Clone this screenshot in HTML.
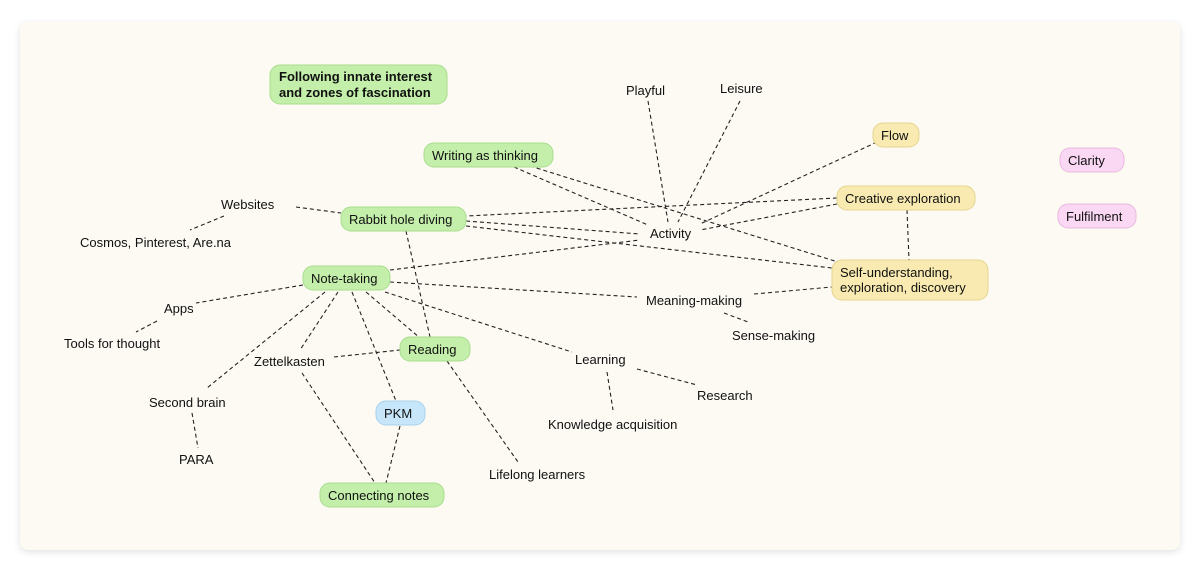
<!DOCTYPE html>
<html><head><meta charset="utf-8"><style>
html,body{margin:0;padding:0;background:#fff;width:1200px;height:571px;overflow:hidden}
.card{position:absolute;left:20px;top:22px;width:1160px;height:528px;background:#fcfaf3;border-radius:8px;box-shadow:0 2px 8px rgba(0,0,0,0.12)}
svg{position:absolute;left:0;top:0}
text{font-family:"Liberation Sans",Arial,sans-serif;font-size:13px;fill:#111}
</style></head><body>
<div class="card"></div>
<svg width="1200" height="571" viewBox="0 0 1200 571">
<g stroke="#222" stroke-width="1.1" stroke-dasharray="4,3" fill="none">
<line x1="648" y1="101" x2="668" y2="222"/>
<line x1="740" y1="101" x2="678" y2="222"/>
<line x1="877" y1="142" x2="700" y2="224"/>
<line x1="837" y1="204" x2="700" y2="230"/>
<line x1="837" y1="198" x2="466" y2="216"/>
<line x1="514" y1="167" x2="648" y2="225"/>
<line x1="530" y1="166" x2="838" y2="262"/>
<line x1="466" y1="221" x2="640" y2="234"/>
<line x1="466" y1="226" x2="832" y2="268"/>
<line x1="390" y1="270" x2="640" y2="240"/>
<line x1="390" y1="282" x2="637" y2="297"/>
<line x1="754" y1="294" x2="832" y2="287"/>
<line x1="724" y1="313" x2="748" y2="322"/>
<line x1="907" y1="210" x2="909" y2="260"/>
<line x1="296" y1="207" x2="341" y2="213"/>
<line x1="224" y1="216" x2="190" y2="230"/>
<line x1="406" y1="231" x2="430" y2="337"/>
<line x1="303" y1="285" x2="196" y2="303"/>
<line x1="157" y1="321" x2="136" y2="332"/>
<line x1="325" y1="292" x2="207" y2="388"/>
<line x1="338" y1="292" x2="300" y2="350"/>
<line x1="352" y1="292" x2="396" y2="401"/>
<line x1="366" y1="292" x2="420" y2="338"/>
<line x1="385" y1="292" x2="572" y2="352"/>
<line x1="334" y1="357" x2="400" y2="350"/>
<line x1="302" y1="373" x2="375" y2="483"/>
<line x1="400" y1="426" x2="386" y2="483"/>
<line x1="447" y1="361" x2="518" y2="462"/>
<line x1="607" y1="372" x2="613" y2="410"/>
<line x1="637" y1="369" x2="697" y2="385"/>
<line x1="192" y1="413" x2="198" y2="448"/>
</g>
<g stroke-width="1">
<rect x="270" y="65" width="177" height="39" rx="10" fill="#c3efaa" stroke="#a9dd8e"/>
<rect x="424" y="143" width="129" height="24" rx="10" fill="#c3efaa" stroke="#a9dd8e"/>
<rect x="341" y="207" width="125" height="24" rx="10" fill="#c3efaa" stroke="#a9dd8e"/>
<rect x="303" y="266" width="87" height="24" rx="10" fill="#c3efaa" stroke="#a9dd8e"/>
<rect x="400" y="337" width="70" height="24" rx="10" fill="#c3efaa" stroke="#a9dd8e"/>
<rect x="376" y="401" width="49" height="24" rx="10" fill="#c7e6f9" stroke="#a9d2ee"/>
<rect x="320" y="483" width="124" height="24" rx="10" fill="#c3efaa" stroke="#a9dd8e"/>
<rect x="873" y="123" width="46" height="24" rx="10" fill="#f8eab0" stroke="#e6d48f"/>
<rect x="837" y="186" width="138" height="24" rx="10" fill="#f8eab0" stroke="#e6d48f"/>
<rect x="832" y="260" width="156" height="40" rx="10" fill="#f8eab0" stroke="#e6d48f"/>
<rect x="1060" y="148" width="64" height="24" rx="10" fill="#fad7f3" stroke="#eab9e0"/>
<rect x="1058" y="204" width="78" height="24" rx="10" fill="#fad7f3" stroke="#eab9e0"/>
</g>
<text x="279" y="81" font-weight="bold">Following innate interest</text>
<text x="279" y="97" font-weight="bold">and zones of fascination</text>
<text x="432" y="160">Writing as thinking</text>
<text x="349" y="224">Rabbit hole diving</text>
<text x="311" y="283">Note-taking</text>
<text x="408" y="354">Reading</text>
<text x="384" y="418">PKM</text>
<text x="328" y="500">Connecting notes</text>
<text x="881" y="140">Flow</text>
<text x="845" y="203">Creative exploration</text>
<text x="840" y="277">Self-understanding,</text>
<text x="840" y="292">exploration, discovery</text>
<text x="1068" y="165">Clarity</text>
<text x="1066" y="221">Fulfilment</text>
<text x="626" y="95">Playful</text>
<text x="720" y="93">Leisure</text>
<text x="650" y="238">Activity</text>
<text x="221" y="209">Websites</text>
<text x="80" y="247">Cosmos, Pinterest, Are.na</text>
<text x="164" y="313">Apps</text>
<text x="64" y="348">Tools for thought</text>
<text x="254" y="366">Zettelkasten</text>
<text x="149" y="407">Second brain</text>
<text x="179" y="464">PARA</text>
<text x="646" y="305">Meaning-making</text>
<text x="732" y="340">Sense-making</text>
<text x="575" y="364">Learning</text>
<text x="697" y="400">Research</text>
<text x="548" y="429">Knowledge acquisition</text>
<text x="489" y="479">Lifelong learners</text>
</svg>
</body></html>
